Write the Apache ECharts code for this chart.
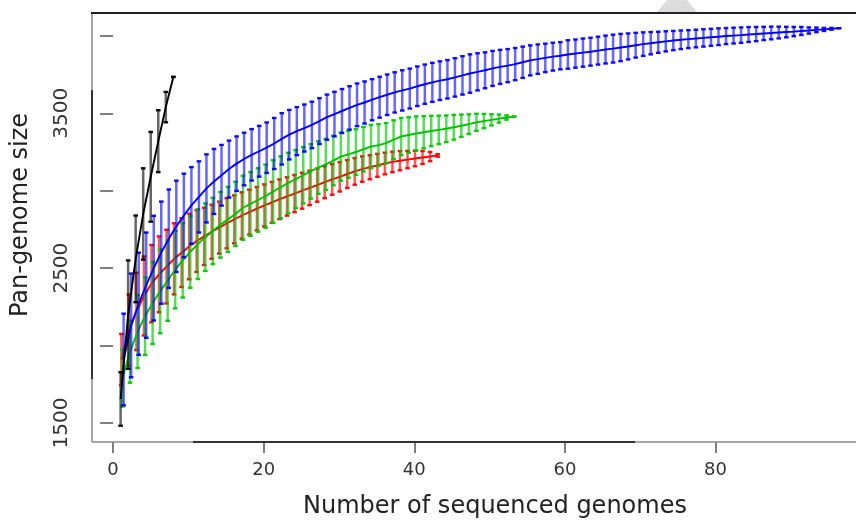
<!DOCTYPE html>
<html><head><meta charset="utf-8">
<script src="https://cdn.jsdelivr.net/npm/echarts@6/dist/echarts.min.js"></script>
<style>html,body{margin:0;padding:0;background:#fff}#c{width:856px;height:521px}</style>
</head><body><div id="c"></div>
<script>
// ---- data ----
const xTicks = [0, 20, 40, 60, 80];
const yTicks = [1500, 2000, 2500, 3000, 3500, 4000];
const yTickLabels = [1500, 2500, 3500];
const xTitle = 'Number of sequenced genomes';
const yTitle = 'Pan-genome size';

const blackMean = [1655, 2200, 2560, 2850, 3090, 3320, 3540, 3735];
const blackErr  = [173, 350, 280, 295, 290, 200, 98, 0];

const redMean = [1910, 2100, 2220, 2320, 2400, 2460, 2510, 2560, 2600, 2640,
  2675, 2705, 2735, 2762, 2790, 2815, 2840, 2862, 2884, 2905,
  2925, 2945, 2963, 2982, 3000, 3018, 3036, 3055, 3073, 3090,
  3108, 3125, 3140, 3152, 3164, 3176, 3186, 3194, 3201, 3208,
  3215, 3221, 3228];
const redErr = [165, 230, 250, 255, 250, 245, 238, 230, 222, 212,
  200, 185, 175, 168, 162, 155, 150, 145, 140, 136,
  132, 128, 124, 120, 116, 111, 107, 103, 99, 95,
  90, 86, 82, 78, 74, 70, 66, 62, 56, 50,
  42, 30, 8];

const greenMean = [1790, 1960, 2090, 2190, 2275, 2350, 2420, 2490, 2550, 2605,
  2655, 2700, 2740, 2780, 2815, 2850, 2890, 2915, 2940, 2965,
  2995, 3022, 3050, 3075, 3100, 3125, 3150, 3170, 3195, 3220,
  3235, 3250, 3268, 3285, 3295, 3307, 3330, 3350, 3360, 3370,
  3378, 3386, 3393, 3400, 3410, 3420, 3430, 3442, 3450, 3458,
  3466, 3473, 3479];
const greenErr = [184, 200, 235, 250, 265, 270, 260, 250, 240, 232,
  225, 218, 214, 212, 210, 208, 207, 206, 205, 204,
  203, 200, 195, 188, 182, 176, 170, 165, 160, 156,
  152, 148, 144, 140, 135, 130, 125, 120, 115, 110,
  104, 98, 92, 86, 80, 72, 64, 55, 46, 36,
  26, 14, 0];

const blueMean = [1910, 2130, 2270, 2390, 2500, 2600, 2690, 2770, 2840, 2905,
  2960, 3015, 3060, 3100, 3140, 3175, 3205, 3232, 3255, 3278,
  3305, 3335, 3362, 3385, 3405, 3425, 3450, 3475, 3495, 3515,
  3535, 3555, 3570, 3588, 3604, 3620, 3635, 3648, 3660, 3675,
  3688, 3700, 3711, 3720, 3732, 3745, 3757, 3768, 3778, 3790,
  3800, 3808, 3818, 3830, 3842, 3850, 3858, 3866, 3872, 3880,
  3886, 3892, 3898, 3905, 3912, 3918, 3925, 3932, 3940, 3947,
  3953, 3959, 3965, 3970, 3975, 3979, 3983, 3987, 3991, 3995,
  3999, 4002, 4005, 4009, 4012, 4016, 4019, 4022, 4025, 4028,
  4032, 4035, 4039, 4042, 4046, 4050];
const blueErr = [296, 335, 330, 340, 338, 330, 318, 295, 270, 248,
  230, 220, 210, 196, 184, 176, 170, 166, 164, 163,
  165, 166, 160, 155, 152, 150, 148, 146, 144, 142,
  140, 138, 136, 133, 132, 131, 130, 130, 129, 128,
  127, 126, 125, 124, 124, 124, 124, 120, 116, 113,
  110, 107, 104, 101, 97, 95, 92, 90, 88, 92,
  91, 91, 90, 90, 90, 90, 88, 84, 80, 76,
  72, 68, 65, 62, 60, 58, 57, 56, 55, 54,
  52, 51, 50, 48, 46, 43, 41, 38, 34, 30,
  26, 20, 15, 10, 6, 0];

// ---- chart ----
const FONT = 'DejaVu Sans';
const chart = echarts.init(document.getElementById('c'), null, {renderer: 'canvas'});

function errSeries(mean, err, color, shift, barOpacity, z) {
  return {
    type: 'custom', silent: true, z: z,
    data: mean.map((m, i) => [i + 1, m - err[i], m + err[i]]),
    encode: {x: 0, y: [1, 2]},
    renderItem: function (params, api) {
      const x = api.value(0) + shift;
      const lo = api.coord([x, api.value(1)]);
      const hi = api.coord([x, api.value(2)]);
      const cw = 2.3;
      return {type: 'group', children: [
        {type: 'line', shape: {x1: lo[0], y1: lo[1], x2: hi[0], y2: hi[1]}, style: {stroke: color, lineWidth: 2.5, opacity: barOpacity}},
        {type: 'line', shape: {x1: lo[0] - cw, y1: lo[1], x2: lo[0] + cw, y2: lo[1]}, style: {stroke: color, lineWidth: 2.4, opacity: 0.95}},
        {type: 'line', shape: {x1: hi[0] - cw, y1: hi[1], x2: hi[0] + cw, y2: hi[1]}, style: {stroke: color, lineWidth: 2.4, opacity: 0.95}}
      ]};
    }
  };
}
function meanSeries(mean, color, shift, z) {
  return {
    type: 'line', silent: true, z: z, showSymbol: false, animation: false,
    data: mean.map((m, i) => [i + 1 + shift, m]),
    lineStyle: {color: color, width: 1.9},
    itemStyle: {color: color}
  };
}

const option = {
  animation: false,
  backgroundColor: '#ffffff',
  grid: {left: 92, top: 13, right: 0, height: 429, show: false},
  xAxis: {
    type: 'value', min: -2.8, max: 98.66,
    axisLine: {show: false}, splitLine: {show: false},
    axisTick: {show: true, customValues: xTicks, length: 11, lineStyle: {color: '#555', width: 1.5}},
    axisLabel: {customValues: xTicks, fontSize: 18, color: '#333', margin: 19, fontFamily: FONT}
  },
  yAxis: {
    type: 'value', min: 1377, max: 4148,
    axisLine: {show: false}, splitLine: {show: false},
    axisTick: {show: true, customValues: yTicks, length: 13, lineStyle: {color: '#555', width: 1.5}},
    axisLabel: {customValues: yTickLabels, fontSize: 20, color: '#333', margin: 20, rotate: 90, fontFamily: FONT,
      formatter: function (v) { return String(v); }}
  },
  series: [
    errSeries(redMean, redErr, '#ff0000', 0.1, 0.65, 2),
    meanSeries(redMean, '#ff0000', 0.1, 3),
    errSeries(greenMean, greenErr, '#00c800', 0.25, 0.65, 4),
    meanSeries(greenMean, '#00c000', 0.25, 5),
    errSeries(blueMean, blueErr, '#0000ff', 0.4, 0.6, 6),
    meanSeries(blueMean, '#0000ff', 0.4, 7),
    errSeries(blackMean, blackErr, '#000000', 0, 0.6, 8),
    meanSeries(blackMean, '#000000', 0, 9)
  ],
  graphic: [
    {type: 'polygon', z: 0, shape: {points: [[667, 0], [687, 0], [697, 12], [657, 12]]}, style: {fill: '#dcdcdc'}},
    {type: 'line', z: 40, shape: {x1: 92, y1: 13, x2: 92, y2: 442}, style: {stroke: '#8a8a8a', lineWidth: 1.5}},
    {type: 'line', z: 40, shape: {x1: 92, y1: 442, x2: 856, y2: 442}, style: {stroke: '#8a8a8a', lineWidth: 1.5}},
    {type: 'line', z: 50, shape: {x1: 91, y1: 13, x2: 856, y2: 13}, style: {stroke: '#222', lineWidth: 2}},
    {type: 'line', z: 50, shape: {x1: 92, y1: 90, x2: 92, y2: 379}, style: {stroke: '#333', lineWidth: 2}},
    {type: 'line', z: 50, shape: {x1: 193, y1: 442, x2: 635, y2: 442}, style: {stroke: '#333', lineWidth: 2}},
    {type: 'text', z: 50, x: 495, y: 507, style: {text: xTitle, fontSize: 24, fontFamily: FONT, fill: '#222', textAlign: 'center', textVerticalAlign: 'middle'}},
    {type: 'text', z: 50, x: 21, y: 215, rotation: Math.PI / 2, style: {text: yTitle, fontSize: 24, fontFamily: FONT, fill: '#222', textAlign: 'center', textVerticalAlign: 'middle'}}
  ]
};
chart.setOption(option);
</script>
</body></html>
